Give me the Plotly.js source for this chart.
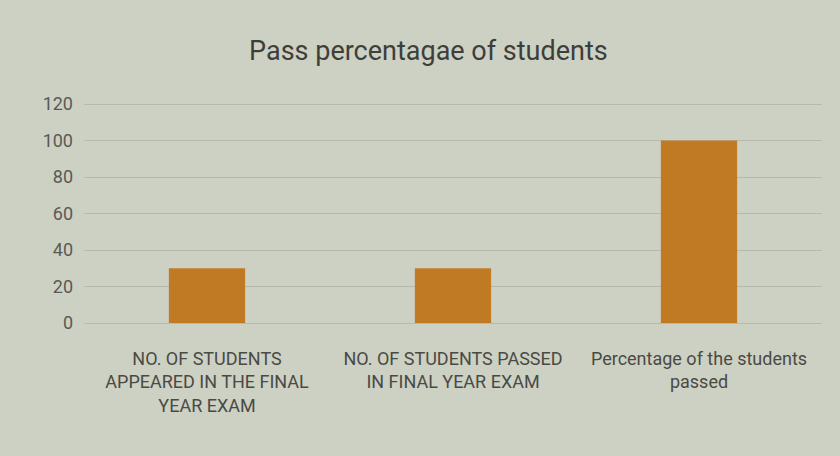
<!DOCTYPE html>
<html>
<head>
<meta charset="utf-8">
<script src="https://cdn.plot.ly/plotly-3.0.1.min.js"></script>
<style>html,body{margin:0;padding:0;background:#cdd1c3;}#chart{width:840px;height:456px;}</style>
</head>
<body>
<div id="chart"></div>
<script>
const categories = [
  "NO. OF STUDENTS<br>APPEARED IN THE FINAL<br>YEAR EXAM",
  "NO. OF STUDENTS PASSED<br>IN FINAL YEAR EXAM",
  "Percentage of the students<br>passed"
];
const values = [30, 30, 100];
const yTicks = [0, 20, 40, 60, 80, 100, 120];

const fontFam = "'Roboto', sans-serif";
const trace = {
  type: 'bar',
  x: categories,
  y: values,
  marker: {color: '#c17a24'},
  hoverinfo: 'none'
};
const layout = {
  width: 840, height: 456,
  paper_bgcolor: '#cdd1c3',
  plot_bgcolor: '#cdd1c3',
  margin: {l: 84, r: 18, t: 103, b: 133},
  bargap: 0.69,
  showlegend: false,
  title: {text: 'Pass percentagae of students', x: 0.51, xanchor: 'center', y: 0.89, yanchor: 'middle',
          font: {family: fontFam, size: 27, color: '#3e3e3a'}},
  font: {family: fontFam, color: '#4e4e49'},
  xaxis: {
    type: 'category',
    tickfont: {size: 18, color: '#4a4a45'},
    showline: false, ticks: '', showgrid: false, zeroline: false,
    ticklabelstandoff: 23
  },
  yaxis: {
    range: [0, 120.6],
    tickvals: yTicks,
    ticktext: yTicks.map(String),
    tickfont: {size: 18, color: '#5a5a55'},
    showgrid: true, gridcolor: '#b6b9ad', gridwidth: 1,
    zeroline: true, zerolinecolor: '#b6b9ad', zerolinewidth: 1,
    showline: false, ticks: '', ticklen: 0,
    ticklabelstandoff: 10
  }
};
Plotly.newPlot('chart', [trace], layout, {staticPlot: true, displayModeBar: false});
</script>
</body>
</html>
